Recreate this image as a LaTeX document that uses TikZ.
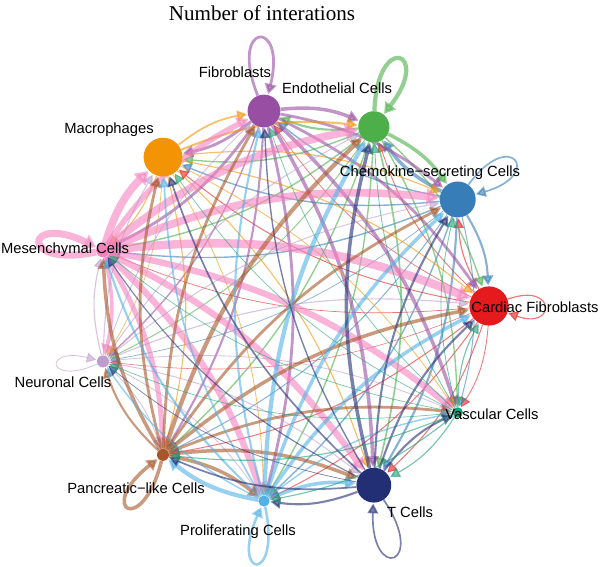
\documentclass[tikz,border=0pt]{standalone}
\usepackage{fontspec}
\setmainfont{Liberation Sans}
\newfontfamily\titlefont{Liberation Serif}
\usetikzlibrary{arrows.meta,backgrounds}
\definecolor{cardc}{HTML}{E41A1C}
\definecolor{chemc}{HTML}{377EB8}
\definecolor{endoc}{HTML}{4DAF4A}
\definecolor{fibroc}{HTML}{984EA3}
\definecolor{macroc}{HTML}{F29403}
\definecolor{mesenc}{HTML}{F781BF}
\definecolor{neuroc}{HTML}{BC9DCC}
\definecolor{pancc}{HTML}{A65628}
\definecolor{prolifc}{HTML}{54B0E4}
\definecolor{tcellc}{HTML}{222F75}
\definecolor{vascc}{HTML}{1B9E77}

\begin{document}
\begin{tikzpicture}[
  cell/.style={circle,fill=#1,draw=none,inner sep=0pt},
  lbl/.style={font=\fontsize{10.5}{12}\selectfont,inner sep=0pt},
  lnk/.style={draw=#1,opacity=0.6,-{Triangle[length=6.5pt 0.4,width=6.5pt 0.9]},shorten >=0.5pt},
  every to/.style={bend left=14},
  self/.style={relative=false,looseness=1,min distance=2cm}]
\useasboundingbox (0,0) rectangle (15,14.175);
\begin{scope}[shift={(7.3,6.525)}]
\node[cell=cardc,minimum size=0.98cm] (card) at (0:4.925) {};
\node[cell=chemc,minimum size=0.9cm] (chem) at (32.73:4.925) {};
\node[cell=endoc,minimum size=0.78cm] (endo) at (65.45:4.925) {};
\node[cell=fibroc,minimum size=0.82cm] (fibro) at (98.18:4.925) {};
\node[cell=macroc,minimum size=0.97cm] (macro) at (130.91:4.925) {};
\node[cell=mesenc,minimum size=0.34cm] (mesen) at (163.64:4.925) {};
\node[cell=neuroc,minimum size=0.3cm] (neuro) at (196.36:4.925) {};
\node[cell=pancc,minimum size=0.3cm] (panc) at (229.09:4.925) {};
\node[cell=prolifc,minimum size=0.28cm] (prolif) at (261.82:4.925) {};
\node[cell=tcellc,minimum size=0.87cm] (tcell) at (294.55:4.925) {};
\node[cell=vascc,minimum size=0.26cm] (vasc) at (327.27:4.925) {};
\end{scope}
\begin{scope}[on background layer]
\draw[lnk=cardc,line width=0.8pt] (card) to (chem);
\draw[lnk=cardc,line width=0.6pt] (card) to (endo);
\draw[lnk=cardc,line width=0.5pt] (card) to (fibro);
\draw[lnk=cardc,line width=0.7pt] (card) to (macro);
\draw[lnk=cardc,line width=0.5pt] (card) to (mesen);
\draw[lnk=cardc,line width=0.4pt] (card) to (neuro);
\draw[lnk=cardc,line width=0.7pt] (card) to (panc);
\draw[lnk=cardc,line width=0.7pt] (card) to (prolif);
\draw[lnk=cardc,line width=0.7pt] (card) to (tcell);
\draw[lnk=cardc,line width=0.6pt] (card) to (vasc);
\draw[lnk=cardc,line width=0.8pt] (card) to[self,out=20,in=-20,min distance=1.3cm] (card);
\draw[lnk=chemc,line width=1.5pt] (chem) to (card);
\draw[lnk=chemc,line width=2.5pt] (chem) to (endo);
\draw[lnk=chemc,line width=1pt] (chem) to (fibro);
\draw[lnk=chemc,line width=1pt] (chem) to (macro);
\draw[lnk=chemc,line width=1pt] (chem) to (mesen);
\draw[lnk=chemc,line width=0.5pt] (chem) to (neuro);
\draw[lnk=chemc,line width=0.7pt] (chem) to (panc);
\draw[lnk=chemc,line width=1pt] (chem) to (prolif);
\draw[lnk=chemc,line width=1.5pt] (chem) to (tcell);
\draw[lnk=chemc,line width=0.7pt] (chem) to (vasc);
\draw[lnk=chemc,line width=1.2pt] (chem) to[self,out=54,in=16,min distance=1.8cm] (chem);
\draw[lnk=endoc,line width=1pt] (endo) to (card);
\draw[lnk=endoc,line width=2.5pt] (endo) to (chem);
\draw[lnk=endoc,line width=1.5pt] (endo) to (fibro);
\draw[lnk=endoc,line width=1pt] (endo) to (macro);
\draw[lnk=endoc,line width=1pt] (endo) to (mesen);
\draw[lnk=endoc,line width=0.7pt] (endo) to (neuro);
\draw[lnk=endoc,line width=1pt] (endo) to (panc);
\draw[lnk=endoc,line width=1pt] (endo) to (prolif);
\draw[lnk=endoc,line width=1.2pt] (endo) to (tcell);
\draw[lnk=endoc,line width=1pt] (endo) to (vasc);
\draw[lnk=endoc,line width=3pt] (endo) to[self,out=88,in=52] (endo);
\draw[lnk=fibroc,line width=2pt] (fibro) to (card);
\draw[lnk=fibroc,line width=2pt] (fibro) to (chem);
\draw[lnk=fibroc,line width=2.5pt] (fibro) to (endo);
\draw[lnk=fibroc,line width=2pt] (fibro) to (macro);
\draw[lnk=fibroc,line width=2pt] (fibro) to (mesen);
\draw[lnk=fibroc,line width=1pt] (fibro) to (neuro);
\draw[lnk=fibroc,line width=1.5pt] (fibro) to (panc);
\draw[lnk=fibroc,line width=2pt] (fibro) to (prolif);
\draw[lnk=fibroc,line width=2.5pt] (fibro) to (tcell);
\draw[lnk=fibroc,line width=2.5pt] (fibro) to (vasc);
\draw[lnk=fibroc,line width=2pt] (fibro) to[self,out=112,in=76] (fibro);
\draw[lnk=macroc,line width=0.8pt] (macro) to (card);
\draw[lnk=macroc,line width=0.8pt] (macro) to (chem);
\draw[lnk=macroc,line width=1.5pt] (macro) to (endo);
\draw[lnk=macroc,line width=1.2pt] (macro) to (fibro);
\draw[lnk=macroc,line width=0.8pt] (macro) to (mesen);
\draw[lnk=macroc,line width=0.5pt] (macro) to (neuro);
\draw[lnk=macroc,line width=0.8pt] (macro) to (panc);
\draw[lnk=macroc,line width=0.6pt] (macro) to (prolif);
\draw[lnk=macroc,line width=0.8pt] (macro) to (tcell);
\draw[lnk=macroc,line width=0.6pt] (macro) to (vasc);
\draw[lnk=mesenc,line width=6pt] (mesen) to (card);
\draw[lnk=mesenc,line width=5.5pt] (mesen) to (chem);
\draw[lnk=mesenc,line width=5.5pt] (mesen) to (endo);
\draw[lnk=mesenc,line width=4pt] (mesen) to (fibro);
\draw[lnk=mesenc,line width=5.5pt] (mesen) to (macro);
\draw[lnk=mesenc,line width=2.5pt] (mesen) to (neuro);
\draw[lnk=mesenc,line width=3.5pt] (mesen) to (panc);
\draw[lnk=mesenc,line width=4.5pt] (mesen) to (prolif);
\draw[lnk=mesenc,line width=4.5pt] (mesen) to (tcell);
\draw[lnk=mesenc,line width=4.5pt] (mesen) to (vasc);
\draw[lnk=mesenc,line width=5pt] (mesen) to[self,out=192,in=154] (mesen);
\draw[lnk=neuroc,line width=0.8pt] (neuro) to (card);
\draw[lnk=neuroc,line width=0.7pt] (neuro) to (chem);
\draw[lnk=neuroc,line width=0.7pt] (neuro) to (endo);
\draw[lnk=neuroc,line width=0.7pt] (neuro) to (fibro);
\draw[lnk=neuroc,line width=0.8pt] (neuro) to (macro);
\draw[lnk=neuroc,line width=0.8pt] (neuro) to (mesen);
\draw[lnk=neuroc,line width=0.6pt] (neuro) to (panc);
\draw[lnk=neuroc,line width=0.6pt] (neuro) to (prolif);
\draw[lnk=neuroc,line width=0.7pt] (neuro) to (tcell);
\draw[lnk=neuroc,line width=0.6pt] (neuro) to (vasc);
\draw[lnk=neuroc,line width=0.6pt] (neuro) to[self,out=204,in=166,min distance=1.4cm] (neuro);
\draw[lnk=pancc,line width=2.5pt] (panc) to (card);
\draw[lnk=pancc,line width=2pt] (panc) to (chem);
\draw[lnk=pancc,line width=3pt] (panc) to (endo);
\draw[lnk=pancc,line width=2pt] (panc) to (fibro);
\draw[lnk=pancc,line width=2pt] (panc) to (macro);
\draw[lnk=pancc,line width=2.5pt] (panc) to (mesen);
\draw[lnk=pancc,line width=1.5pt] (panc) to (neuro);
\draw[lnk=pancc,line width=2.5pt] (panc) to (prolif);
\draw[lnk=pancc,line width=2.5pt] (panc) to (tcell);
\draw[lnk=pancc,line width=2pt] (panc) to (vasc);
\draw[lnk=pancc,line width=2.5pt] (panc) to[self,out=-104,in=-142] (panc);
\draw[lnk=prolifc,line width=2.5pt] (prolif) to (card);
\draw[lnk=prolifc,line width=2.5pt] (prolif) to (chem);
\draw[lnk=prolifc,line width=3pt] (prolif) to (endo);
\draw[lnk=prolifc,line width=1.5pt] (prolif) to (fibro);
\draw[lnk=prolifc,line width=1.2pt] (prolif) to (macro);
\draw[lnk=prolifc,line width=1.5pt] (prolif) to (mesen);
\draw[lnk=prolifc,line width=1pt] (prolif) to (neuro);
\draw[lnk=prolifc,line width=3pt] (prolif) to (panc);
\draw[lnk=prolifc,line width=2.5pt] (prolif) to (tcell);
\draw[lnk=prolifc,line width=1pt] (prolif) to (vasc);
\draw[lnk=prolifc,line width=1.8pt] (prolif) to[self,out=-78,in=-114] (prolif);
\draw[lnk=tcellc,line width=1.5pt] (tcell) to (card);
\draw[lnk=tcellc,line width=1.5pt] (tcell) to (chem);
\draw[lnk=tcellc,line width=2.5pt] (tcell) to (endo);
\draw[lnk=tcellc,line width=1pt] (tcell) to (fibro);
\draw[lnk=tcellc,line width=1.2pt] (tcell) to (macro);
\draw[lnk=tcellc,line width=0.8pt] (tcell) to (mesen);
\draw[lnk=tcellc,line width=0.5pt] (tcell) to (neuro);
\draw[lnk=tcellc,line width=1.2pt] (tcell) to (panc);
\draw[lnk=tcellc,line width=1.5pt] (tcell) to (prolif);
\draw[lnk=tcellc,line width=1.5pt] (tcell) to (vasc);
\draw[lnk=tcellc,line width=1.2pt] (tcell) to[self,out=-56,in=-92] (tcell);
\draw[lnk=vascc,line width=0.8pt] (vasc) to (card);
\draw[lnk=vascc,line width=0.6pt] (vasc) to (chem);
\draw[lnk=vascc,line width=0.6pt] (vasc) to (endo);
\draw[lnk=vascc,line width=0.5pt] (vasc) to (fibro);
\draw[lnk=vascc,line width=0.5pt] (vasc) to (macro);
\draw[lnk=vascc,line width=0.5pt] (vasc) to (mesen);
\draw[lnk=vascc,line width=0.5pt] (vasc) to (neuro);
\draw[lnk=vascc,line width=0.8pt] (vasc) to (panc);
\draw[lnk=vascc,line width=0.8pt] (vasc) to (prolif);
\draw[lnk=vascc,line width=0.8pt] (vasc) to (tcell);
\end{scope}
\node[font=\titlefont\fontsize{15}{18}\selectfont] (title) at (6.55,13.85) {Number of interations};
\node[lbl] (fibrolbl) at (5.875,12.375) {Fibroblasts};
\node[lbl] (endolbl) at (8.425,11.975) {Endothelial Cells};
\node[lbl] (macrolbl) at (2.725,10.925) {Macrophages};
\node[lbl] (chemlbl) at (10.75,9.85) {Chemokine−secreting Cells};
\node[lbl] (mesenlbl) at (1.625,7.925) {Mesenchymal Cells};
\node[lbl] (cardlbl) at (13.375,6.5) {Cardiac Fibroblasts};
\node[lbl] (neurolbl) at (1.575,4.625) {Neuronal Cells};
\node[lbl] (vasclbl) at (12.3,3.825) {Vascular Cells};
\node[lbl] (panclbl) at (3.4,1.975) {Pancreatic−like Cells};
\node[lbl] (proliflbl) at (5.95,0.875) {Proliferating Cells};
\node[lbl] (tcelllbl) at (10.25,1.375) {T Cells};
\end{tikzpicture}
\end{document}
